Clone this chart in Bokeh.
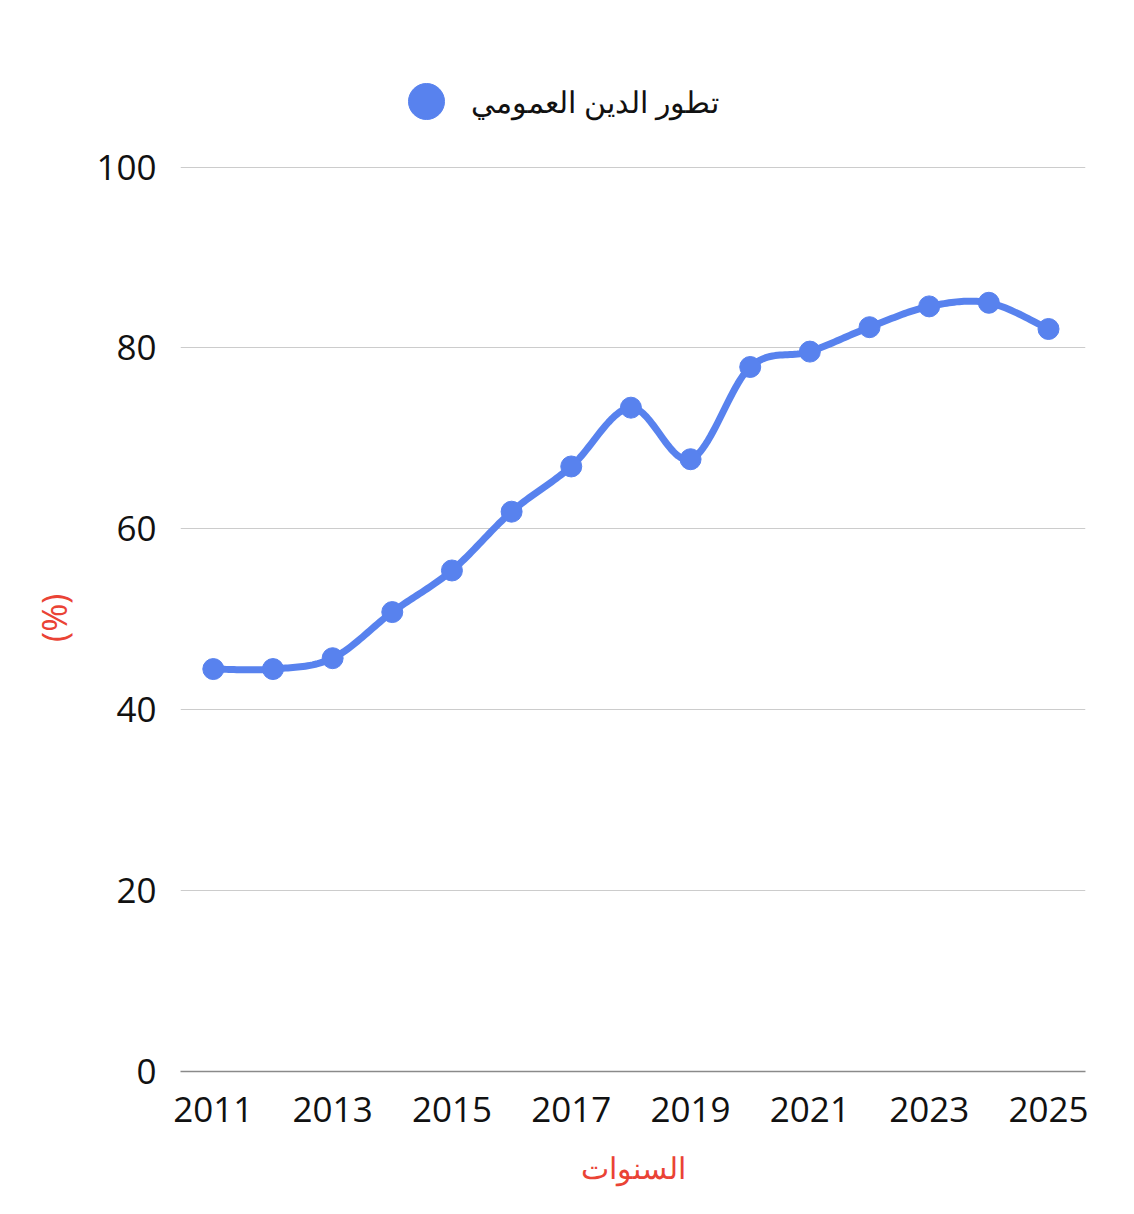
import numpy as np
from bokeh.plotting import figure
from bokeh.models import FixedTicker, Legend, LegendItem, Range1d
from bokeh.embed import file_html
from bokeh.resources import INLINE

# ---- data ----
years = [2011, 2012, 2013, 2014, 2015, 2016, 2017, 2018, 2019, 2020, 2021, 2022, 2023, 2024, 2025]
debt = [44.5, 44.5, 45.7, 50.8, 55.4, 61.9, 66.9, 73.4, 67.7, 77.9, 79.6, 82.3, 84.6, 85.0, 82.1]
x_ticks = [2011, 2013, 2015, 2017, 2019, 2021, 2023, 2025]
y_ticks = [0, 20, 40, 60, 80, 100]
series_name = "تطور الدين العمومي"
x_title = "السنوات"
y_title = "(%)"

LINE_COLOR = "#5882EE"
RED = "#EA4335"
FONT = "Open Sans"


def catmull_rom(xs, ys, n=24):
    xs = np.asarray(xs, float)
    ys = np.asarray(ys, float)
    px = np.concatenate([[xs[0]], xs, [xs[-1]]])
    py = np.concatenate([[ys[0]], ys, [ys[-1]]])
    out_x, out_y = [], []
    for i in range(1, len(px) - 2):
        t = np.linspace(0, 1, n, endpoint=False)
        t2, t3 = t * t, t * t * t
        for arr, out in ((px, out_x), (py, out_y)):
            p0, p1, p2, p3 = arr[i - 1], arr[i], arr[i + 1], arr[i + 2]
            v = 0.5 * ((2 * p1) + (-p0 + p2) * t + (2 * p0 - 5 * p1 + 4 * p2 - p3) * t2
                       + (-p0 + 3 * p1 - 3 * p2 + p3) * t3)
            out.extend(v.tolist())
    out_x.append(xs[-1])
    out_y.append(ys[-1])
    return out_x, out_y


sx, sy = catmull_rom(years, debt)

# frame extends above 100 to host the legend (no grid/ticks above 100)
p = figure(frame_width=905, frame_height=1031, output_backend="svg", toolbar_location=None, title=None,
           x_range=Range1d(2010.45, 2025.62), y_range=Range1d(0, 114),
           min_border_left=180, min_border_right=33, min_border_top=40, min_border_bottom=127)
p.outline_line_color = None
p.background_fill_color = "white"
p.border_fill_color = "white"

p.line(sx, sy, line_color=LINE_COLOR, line_width=7, line_join="round", line_cap="round")
pts = p.scatter(years, debt, size=21, fill_color=LINE_COLOR, line_color=LINE_COLOR)

# axes
p.xaxis.ticker = FixedTicker(ticks=x_ticks)
p.yaxis.ticker = FixedTicker(ticks=y_ticks)
for ax in (p.xaxis, p.yaxis):
    ax.major_tick_line_color = None
    ax.minor_tick_line_color = None
    ax.major_tick_in = 0
    ax.major_tick_out = 0
    ax.minor_tick_in = 0
    ax.minor_tick_out = 0
    ax.major_label_text_font = FONT
    ax.major_label_text_font_size = "35px"
    ax.major_label_text_color = "#111111"
    ax.axis_label_text_font = FONT
    ax.axis_label_text_font_size = "30px"
    ax.axis_label_text_color = RED
    ax.axis_label_text_font_style = "normal"

p.yaxis.axis_line_color = None
p.yaxis.major_label_standoff = 24
# non-breaking padding keeps the label centred on the 0-100 part of the axis
p.yaxis.axis_label = y_title + "\u00a0" * 14
p.yaxis.axis_label_text_font_size = "34px"
p.yaxis.axis_label_standoff = 16

p.xaxis.axis_line_color = "#8a8a8a"
p.xaxis.axis_line_width = 1.5
p.xaxis.major_label_standoff = 25
p.xaxis.axis_label = x_title
p.xaxis.axis_label_standoff = 22

p.xgrid.grid_line_color = None
p.ygrid.ticker = FixedTicker(ticks=y_ticks)
p.ygrid.grid_line_color = "#cccccc"
p.ygrid.grid_line_width = 1

legend = Legend(items=[LegendItem(label=series_name, renderers=[pts])],
                orientation="horizontal", glyph_width=90, glyph_height=90,
                label_standoff=-11, padding=0, margin=0, spacing=0,
                border_line_color=None, background_fill_alpha=0,
                label_text_font=FONT, label_text_font_size="30px",
                label_text_color="#111111", location=(201, 925))
p.add_layout(legend)

open("out.html", "w").write(file_html(p, INLINE))
